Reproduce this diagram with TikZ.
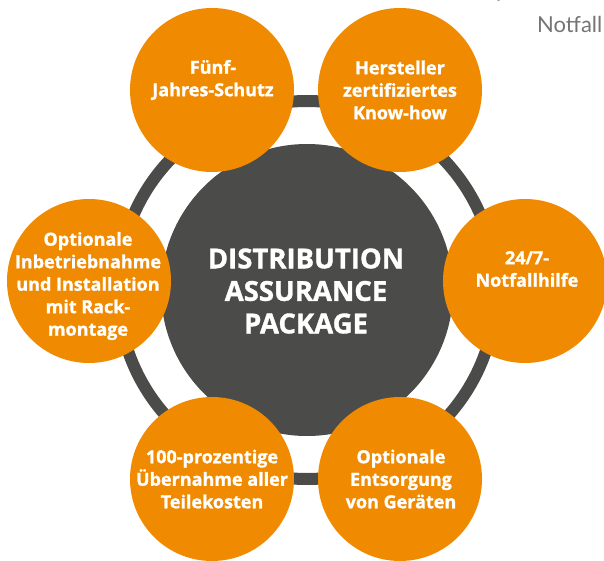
\documentclass[tikz,border=0pt]{standalone}
\usepackage{fontspec}
\setmainfont{Open Sans}[Ligatures=NoCommon, BoldFeatures={FakeBold=1.2}]
\newfontfamily\notefont{Lato}
\definecolor{orng}{HTML}{F08A00}
\definecolor{hubgray}{HTML}{4B4B49}
\definecolor{notegray}{HTML}{747474}
\begin{document}
\begin{tikzpicture}[x=1pt,y=-1pt,
  bubble/.style={circle, fill=orng, minimum size=164pt, inner sep=0pt},
  btext/.style={text=white, font=\fontsize{18}{22.5}\selectfont\bfseries, align=center, inner sep=0pt},
  hubtext/.style={text=white, font=\fontsize{27.5}{32.5}\selectfont\bfseries, align=center, inner sep=0pt},
  notetext/.style={text=notegray, font=\notefont\fontsize{22}{26}\selectfont, inner sep=0pt, anchor=base west}]
\useasboundingbox (0,0) rectangle (604,561);
\fill[white] (0,0) rectangle (604,561);
% ring
\node[circle, draw=hubgray, line width=12pt, minimum size=378pt, inner sep=0pt] (ring) at (307,290) {};
% hub
\node[circle, fill=hubgray, minimum size=292pt, inner sep=0pt] (hub) at (307,290) {};
\node[hubtext] (hubt) at (306,291) {DISTRIBUTION\\ASSURANCE\\PACKAGE};
% bubbles
\node[bubble] (c1) at (212,90) {};
\node[bubble] (c2) at (400,90) {};
\node[bubble] (c3) at (525,281) {};
\node[bubble] (c4) at (400,479) {};
\node[bubble] (c5) at (212,479) {};
\node[bubble] (c6) at (89,281) {};
\node[btext] (t1) at (213,80) {Fünf-\\Jahres-Schutz};
\node[btext] (t2) at (400,90) {Hersteller\\zertifiziertes\\Know-how};
\node[btext] (t3) at (527,269) {24/7-\\Notfallhilfe};
\node[btext] (t4) at (401,479) {Optionale\\Entsorgung\\von Geräten};
\node[btext] (t5) at (212,479) {100-prozentige\\Übernahme aller\\Teilekosten};
\node[btext] (t6) at (88,286) {Optionale\\Inbetriebnahme\\und Installation\\mit Rack-\\montage};
% clipped texts at top right
\node[notetext] (n1) at (537,33) {Notfall};
\node[notetext] (n2) at (496,-2) {p};
\end{tikzpicture}
\end{document}
